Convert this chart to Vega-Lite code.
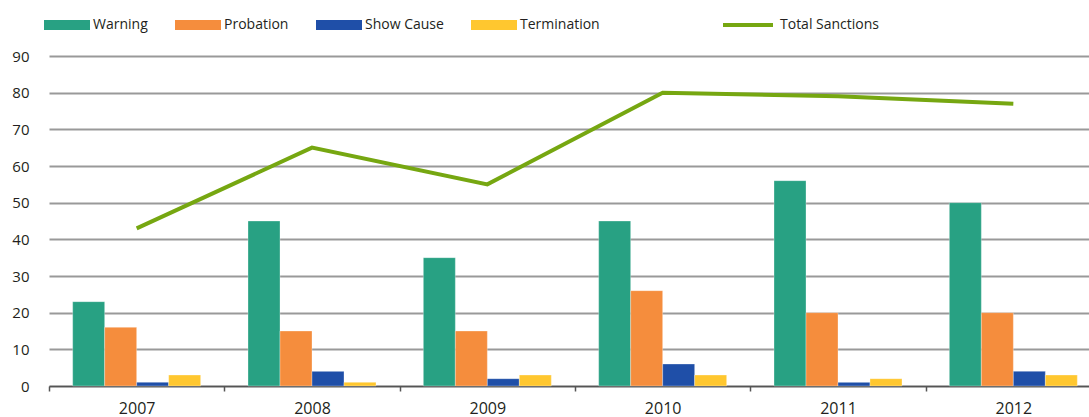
{
  "$schema": "https://vega.github.io/schema/vega-lite/v6.json",
  "autosize": {"type": "none"},
  "padding": {"left": 49, "top": 56, "right": 0, "bottom": 31},
  "width": 1052,
  "height": 330,
  "background": "white",
  "config": {
    "view": {"stroke": null},
    "font": "Open Sans",
    "axis": {"labelFont": "Open Sans", "labelFontSize": 15, "labelColor": "#231f20"},
    "legend": {"labelFont": "Open Sans", "labelFontSize": 14, "labelColor": "#231f20"}
  },
  "data": {
    "values": [
      {"year": "2007", "series": "Warning", "value": 23},
      {"year": "2007", "series": "Probation", "value": 16},
      {"year": "2007", "series": "Show Cause", "value": 1},
      {"year": "2007", "series": "Termination", "value": 3},
      {"year": "2007", "series": "Total Sanctions", "value": 43},
      {"year": "2008", "series": "Warning", "value": 45},
      {"year": "2008", "series": "Probation", "value": 15},
      {"year": "2008", "series": "Show Cause", "value": 4},
      {"year": "2008", "series": "Termination", "value": 1},
      {"year": "2008", "series": "Total Sanctions", "value": 65},
      {"year": "2009", "series": "Warning", "value": 35},
      {"year": "2009", "series": "Probation", "value": 15},
      {"year": "2009", "series": "Show Cause", "value": 2},
      {"year": "2009", "series": "Termination", "value": 3},
      {"year": "2009", "series": "Total Sanctions", "value": 55},
      {"year": "2010", "series": "Warning", "value": 45},
      {"year": "2010", "series": "Probation", "value": 26},
      {"year": "2010", "series": "Show Cause", "value": 6},
      {"year": "2010", "series": "Termination", "value": 3},
      {"year": "2010", "series": "Total Sanctions", "value": 80},
      {"year": "2011", "series": "Warning", "value": 56},
      {"year": "2011", "series": "Probation", "value": 20},
      {"year": "2011", "series": "Show Cause", "value": 1},
      {"year": "2011", "series": "Termination", "value": 2},
      {"year": "2011", "series": "Total Sanctions", "value": 79},
      {"year": "2012", "series": "Warning", "value": 50},
      {"year": "2012", "series": "Probation", "value": 20},
      {"year": "2012", "series": "Show Cause", "value": 4},
      {"year": "2012", "series": "Termination", "value": 3},
      {"year": "2012", "series": "Total Sanctions", "value": 77}
    ]
  },
  "encoding": {
    "x": {
      "field": "year", "type": "nominal", "title": null,
      "scale": {"paddingInner": 0, "paddingOuter": 0},
      "axis": {
        "labelAngle": 0, "labelFontSize": 16, "domainColor": "#555555", "domainWidth": 1.5,
        "tickColor": "#555555", "tickWidth": 1.5, "tickSize": 5, "tickBand": "extent",
        "labelPadding": 9, "grid": false
      }
    },
    "y": {
      "field": "value", "type": "quantitative", "title": null,
      "scale": {"domain": [0, 90], "nice": false},
      "axis": {
        "values": [0, 10, 20, 30, 40, 50, 60, 70, 80, 90],
        "domain": false, "ticks": false, "labelPadding": 20,
        "grid": true, "gridColor": "#999999", "gridWidth": 2
      }
    }
  },
  "layer": [
    {
      "transform": [{"filter": "datum.series !== 'Total Sanctions'"}],
      "mark": {"type": "bar", "stroke": "white", "strokeWidth": 0.5, "strokeOpacity": 0.6},
      "encoding": {
        "xOffset": {
          "field": "series", "type": "nominal",
          "sort": ["Warning", "Probation", "Show Cause", "Termination"],
          "scale": {"paddingInner": 0, "paddingOuter": 0.74}
        },
        "color": {
          "field": "series", "type": "nominal",
          "scale": {
            "domain": ["Warning", "Probation", "Show Cause", "Termination"],
            "range": ["#28a183", "#f58d3d", "#1f4fa8", "#ffc72f"]
          },
          "legend": {
            "title": null, "orient": "none", "direction": "horizontal",
            "legendX": -5, "legendY": -54,
            "symbolType": "M-1,-0.22H1V0.22H-1Z", "symbolSize": 2116,
            "symbolStrokeWidth": 0, "symbolOpacity": 1,
            "labelOffset": 3, "columnPadding": 27, "gridAlign": "none"
          }
        }
      }
    },
    {
      "transform": [{"filter": "datum.series === 'Total Sanctions'"}],
      "mark": {"type": "line", "strokeWidth": 4},
      "encoding": {
        "stroke": {
          "field": "series", "type": "nominal",
          "scale": {"domain": ["Total Sanctions"], "range": ["#76a711"]},
          "legend": {
            "title": null, "orient": "none",
            "legendX": 672, "legendY": -58,
            "symbolType": "stroke", "symbolSize": 2500, "symbolStrokeWidth": 4,
            "labelOffset": 5
          }
        }
      }
    }
  ]
}
